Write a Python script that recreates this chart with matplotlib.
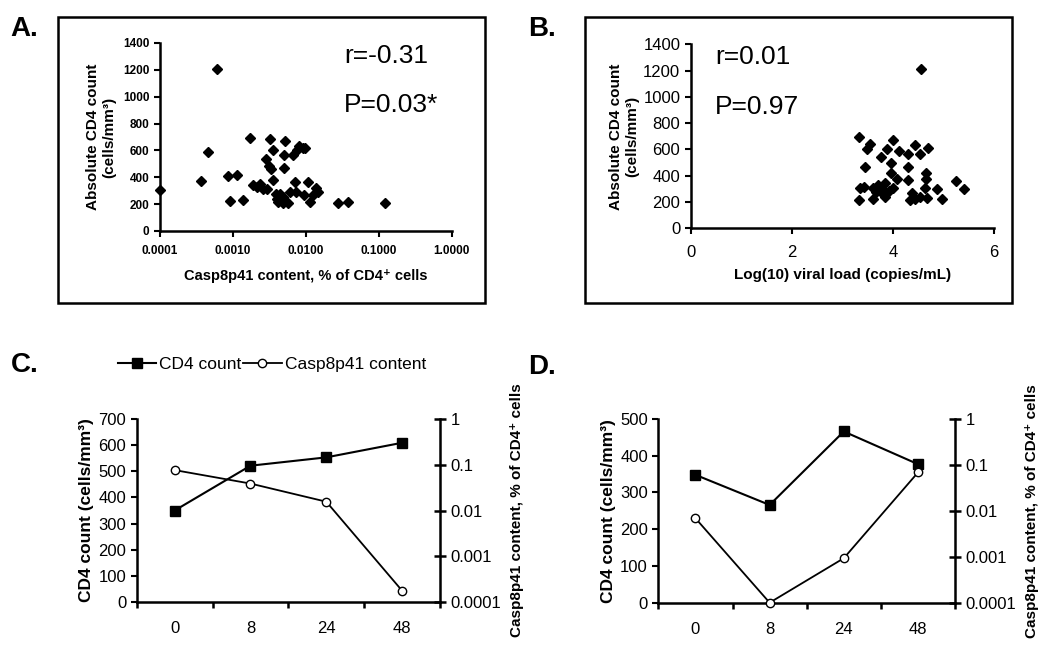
import matplotlib
matplotlib.use("Agg")
import matplotlib.pyplot as plt
import numpy as np
from matplotlib.patches import Rectangle
from matplotlib.ticker import FixedLocator, NullFormatter

plt.rcParams['font.family'] = ['Liberation Sans', 'DejaVu Sans']

# Panel A: Casp8p41 content vs absolute CD4 count
casp_a = [0.0001, 0.000597, 0.00046, 0.000368, 0.00086, 0.00112, 0.00091, 0.00139,
          0.00171, 0.00186, 0.00211, 0.00234, 0.0026, 0.00295, 0.00321, 0.00349,
          0.00283, 0.00315, 0.00328, 0.00357, 0.00388, 0.00396, 0.00418, 0.0044,
          0.00489, 0.00479, 0.00515, 0.0050, 0.0050, 0.00573, 0.00604, 0.00656,
          0.00706, 0.0073, 0.00745, 0.0081, 0.009, 0.0098, 0.0094, 0.0108,
          0.01135, 0.0126, 0.0137, 0.0147, 0.0272, 0.0372, 0.122]
cd4_a = [303, 1209, 588, 372, 407, 415, 224, 229,
         693, 340, 328, 348, 315, 315, 683, 601,
         539, 484, 459, 377, 278, 241, 216, 278,
         253, 209, 670, 563, 469, 209, 291, 563,
         365, 291, 601, 630, 620, 620, 266, 365,
         216, 266, 320, 290, 209, 216, 208]

# Panel B: viral load vs absolute CD4 count
vl_b = [3.33, 3.54, 3.49, 4.00, 3.89, 4.12, 3.77, 4.30, 4.43, 4.53, 4.70,
        3.44, 3.95, 4.30, 3.95, 4.66, 4.66, 4.07, 4.30, 5.24, 5.40,
        3.35, 3.42, 3.61, 3.71, 3.77, 3.84, 4.00, 3.66, 3.81, 3.91,
        4.37, 4.63, 4.87, 3.33, 3.61, 3.84, 4.33, 4.43, 4.53, 4.68,
        4.96, 4.55]
cd4_b = [697, 641, 601, 672, 601, 590, 540, 565, 631, 565, 609,
         469, 494, 469, 423, 418, 373, 373, 368, 362, 299,
         304, 317, 304, 329, 304, 342, 304, 279, 261, 286,
         266, 304, 299, 215, 221, 236, 215, 221, 240, 228,
         221, 1210]

# Panels C and D: time course
weeks = ['0', '8', '24', '48']
cd4_c = [350, 522, 554, 610]
casp_c = [0.077, 0.039, 0.0156, 0.000174]
cd4_d = [348, 266, 466, 377]
casp_d = [0.0069, 0.0001, 0.00093, 0.0686]

fig = plt.figure(figsize=(10.5, 6.47), dpi=100)

# boxes round the top panels
for bx in [0.0552, 0.557]:
    fig.patches.append(Rectangle((bx, 0.5317), 0.4067, 0.442, transform=fig.transFigure,
                                 fill=False, edgecolor='black', linewidth=1.8))

for lbl, x, y in [('A.', 0.010, 0.955), ('B.', 0.503, 0.955),
                  ('C.', 0.010, 0.436), ('D.', 0.503, 0.433)]:
    fig.text(x, y, lbl, fontsize=20, fontweight='bold', va='center')


def scatter_axes(ax):
    for s in ['top', 'right']:
        ax.spines[s].set_visible(False)
    for s in ['left', 'bottom']:
        ax.spines[s].set_linewidth(1.8)
    ax.set_ylim(0, 1400)
    ax.set_yticks(range(0, 1401, 200))
    ax.tick_params(direction='out', length=4, width=1.5)


# A
axA = fig.add_axes([0.1524, 0.643, 0.278, 0.2906])
axA.plot(casp_a, cd4_a, 'D', color='black', ms=4.6, clip_on=False)
axA.set_xscale('log')
axA.set_xlim(0.0001, 1)
axA.set_xticks([0.0001, 0.001, 0.01, 0.1, 1])
axA.set_xticklabels(['0.0001', '0.0010', '0.0100', '0.1000', '1.0000'])
axA.xaxis.set_minor_locator(FixedLocator([]))
scatter_axes(axA)
for t in axA.get_xticklabels() + axA.get_yticklabels():
    t.set_fontsize(8.5)
    t.set_fontweight('bold')
axA.tick_params(axis='x', pad=6)
axA.set_xlabel('Casp8p41 content, % of CD4⁺ cells', fontsize=10.5, fontweight='bold', labelpad=9)
axA.set_ylabel('Absolute CD4 count\n(cells/mm³)', fontsize=11, fontweight='bold', labelpad=5)
axA.text(0.63, 0.93, 'r=-0.31', transform=axA.transAxes, fontsize=19, va='center')
axA.text(0.63, 0.67, 'P=0.03*', transform=axA.transAxes, fontsize=19, va='center')

# B
axB = fig.add_axes([0.6578, 0.6471, 0.2891, 0.2844])
axB.plot(vl_b, cd4_b, 'D', color='black', ms=4.6)
axB.set_xlim(0, 6)
axB.set_xticks([0, 2, 4, 6])
scatter_axes(axB)
axB.tick_params(labelsize=12)
axB.tick_params(axis='x', pad=8)
axB.set_xlabel('Log(10) viral load (copies/mL)', fontsize=11, fontweight='bold', labelpad=6)
axB.set_ylabel('Absolute CD4 count\n(cells/mm³)', fontsize=11, fontweight='bold', labelpad=3)
axB.text(0.08, 0.93, 'r=0.01', transform=axB.transAxes, fontsize=19, va='center')
axB.text(0.08, 0.66, 'P=0.97', transform=axB.transAxes, fontsize=19, va='center')


def time_axes(rect, cd4, casp, ymax):
    ax = fig.add_axes(rect)
    pos = np.arange(len(weeks))
    l1, = ax.plot(pos, cd4, '-s', color='black', lw=1.5, ms=6.5, mfc='black', zorder=3)
    ax.set_xlim(-0.5, len(weeks) - 0.5)
    ax.set_ylim(0, ymax)
    ax.set_yticks(range(0, ymax + 1, 100))
    ax.set_xticks(np.arange(-0.5, len(weeks), 1.0))
    ax.xaxis.set_major_formatter(NullFormatter())
    ax.set_xticks(pos, minor=True)
    ax.set_xticklabels(weeks, minor=True)
    ax.tick_params(axis='x', which='minor', length=0, pad=14, labelsize=12)
    ax.tick_params(axis='x', which='major', direction='out', length=4, width=1.8)
    ax.tick_params(axis='y', direction='out', length=4, width=1.5, labelsize=12)
    ax.spines['top'].set_visible(False)
    ax.spines['right'].set_visible(False)
    for s in ['left', 'bottom']:
        ax.spines[s].set_linewidth(1.8)
    ax.set_ylabel('CD4 count (cells/mm³)', fontsize=12.5, fontweight='bold', labelpad=3)

    ax2 = ax.twinx()
    l2, = ax2.plot(pos, casp, '-o', color='black', lw=1.3, ms=6, mfc='white', mec='black',
                   mew=1.0, zorder=3, clip_on=False)
    ax2.set_yscale('log')
    ax2.set_ylim(0.0001, 1)
    ax2.set_yticks([0.0001, 0.001, 0.01, 0.1, 1])
    ax2.set_yticklabels(['0.0001', '0.001', '0.01', '0.1', '1'])
    ax2.yaxis.set_minor_locator(FixedLocator([]))
    ax2.tick_params(axis='y', direction='inout', length=8, width=1.8, labelsize=12)
    for s in ['top', 'left', 'bottom']:
        ax2.spines[s].set_visible(False)
    ax2.spines['right'].set_linewidth(1.8)
    ax2.set_ylabel('Casp8p41 content, % of CD4⁺ cells', fontsize=11, fontweight='bold',
                   labelpad=6)
    return l1, l2


l1, l2 = time_axes([0.1302, 0.07, 0.2889, 0.2819], cd4_c, casp_c, 700)
time_axes([0.627, 0.0685, 0.2826, 0.2839], cd4_d, casp_d, 500)

fig.legend([l1, l2], ['CD4 count', 'Casp8p41 content'], loc='center',
           bbox_to_anchor=(0.259, 0.436), ncol=2, frameon=False, fontsize=12.5,
           handlelength=2.2, handletextpad=0.2, columnspacing=0.1)

fig.savefig('out.png', dpi=100)
